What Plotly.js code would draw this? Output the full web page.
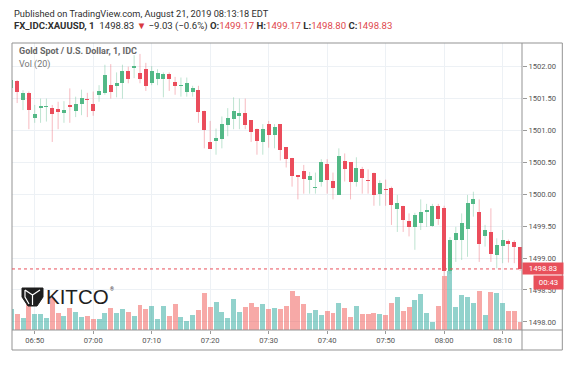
<!DOCTYPE html>
<html>
<head>
<meta charset="utf-8">
<script src="https://cdn.plot.ly/plotly-3.0.1.min.js"></script>
<style>
  html, body { margin: 0; padding: 0; background: #ffffff; }
  #chart { width: 577px; height: 372px; }
</style>
</head>
<body>
<div id="chart"></div>
<script>
// ---- Data (1-minute candles, FX_IDC:XAUUSD, 21 Aug 2019) ----
const day = '2019-08-21';
const times = [
  '06:46','06:47','06:48','06:49','06:50','06:51','06:52','06:53','06:54','06:55','06:56','06:57','06:58','06:59',
  '07:00','07:01','07:02','07:03','07:04','07:05','07:06','07:07','07:08','07:09',
  '07:10','07:11','07:12','07:13','07:14','07:15','07:16','07:17','07:18','07:19',
  '07:20','07:21','07:22','07:23','07:24','07:25','07:26','07:27','07:28','07:29',
  '07:30','07:31','07:32','07:33','07:34','07:35','07:36','07:37','07:38','07:39',
  '07:40','07:41','07:42','07:43','07:44','07:45','07:46','07:47','07:48','07:49',
  '07:50','07:51','07:52','07:53','07:54','07:55','07:56','07:57','07:58','07:59',
  '08:00','08:01','08:02','08:03','08:04','08:05','08:06','08:07','08:08','08:09',
  '08:10','08:11','08:12','08:13'
];
const opens = [
  1501.67,1501.78,1501.48,1501.59,1501.20,1501.35,1501.37,1501.36,1501.33,1501.28,1501.40,1501.31,1501.41,1501.50,
  1501.41,1501.56,1501.58,1501.71,1501.70,1501.75,1501.93,1501.98,1501.90,1501.97,
  1501.75,1501.81,1501.81,1501.88,1501.76,1501.70,1501.61,1501.61,1501.63,1501.31,
  1500.82,1500.84,1500.87,1501.09,1501.18,1501.22,1501.27,1501.16,1501.03,1500.82,
  1501.10,1500.93,1501.10,1500.74,1500.57,1500.30,1500.36,1500.23,1500.10,1500.20,
  1500.47,1500.21,1499.99,1500.52,1500.50,1500.19,1500.39,1500.23,1500.34,1500.01,
  1500.08,1500.10,1499.77,1499.82,1499.58,1499.48,1499.55,1499.73,1499.51,1499.81,
  1499.79,1498.80,1499.28,1499.29,1499.45,1499.85,1499.72,1499.34,1499.41,1499.05,
  1499.19,1499.27,1499.26,1499.17
];
const highs = [
  1501.82,1501.79,1501.63,1501.61,1501.40,1501.50,1501.50,1501.40,1501.45,1501.46,1501.66,1501.53,1501.64,1501.59,
  1501.61,1501.71,1502.03,1502.04,1501.91,1502.03,1502.00,1502.18,1502.20,1502.06,
  1502.01,1501.96,1501.91,1501.91,1501.84,1501.83,1501.83,1501.70,1501.70,1501.31,
  1501.15,1501.03,1501.22,1501.35,1501.52,1501.50,1501.50,1501.16,1501.03,1501.10,
  1501.15,1501.10,1501.10,1500.74,1500.57,1500.30,1500.46,1500.35,1500.34,1500.55,
  1500.55,1500.34,1500.72,1500.64,1500.50,1500.58,1500.43,1500.39,1500.34,1500.22,
  1500.23,1500.12,1499.99,1499.82,1499.70,1499.71,1499.92,1499.85,1499.85,1499.85,
  1499.82,1499.33,1499.49,1499.70,1499.99,1500.04,1499.92,1499.52,1499.78,1499.31,
  1499.44,1499.29,1499.28,1499.17
];
const lows = [
  1501.62,1501.43,1501.32,1501.02,1501.12,1501.12,1501.14,1500.82,1501.02,1501.12,1501.12,1501.21,1501.24,1501.21,
  1501.23,1501.45,1501.56,1501.50,1501.52,1501.50,1501.74,1501.82,1501.74,1501.62,
  1501.71,1501.71,1501.52,1501.62,1501.56,1501.53,1501.53,1501.53,1501.12,1500.72,
  1500.71,1500.62,1500.72,1500.91,1501.02,1501.02,1501.02,1500.82,1500.62,1500.62,
  1500.73,1500.72,1500.53,1500.42,1500.12,1499.92,1500.01,1500.01,1500.01,1500.12,
  1500.01,1499.92,1499.99,1500.20,1499.92,1500.12,1500.01,1500.01,1499.82,1499.82,
  1499.82,1499.52,1499.41,1499.41,1499.34,1499.13,1499.44,1499.49,1499.49,1499.52,
  1498.72,1498.75,1498.94,1498.97,1499.02,1499.65,1498.94,1499.18,1498.94,1498.84,
  1498.92,1498.93,1498.92,1498.80
];
const closes = [
  1501.79,1501.60,1501.58,1501.32,1501.26,1501.38,1501.39,1501.26,1501.29,1501.32,1501.37,1501.41,1501.51,1501.48,
  1501.31,1501.62,1501.87,1501.61,1501.75,1501.93,1501.81,1502.01,1501.81,1501.70,
  1501.94,1501.90,1501.88,1501.81,1501.70,1501.72,1501.75,1501.67,1501.29,1501.00,
  1500.71,1500.89,1501.10,1501.20,1501.31,1501.28,1501.09,1500.97,1500.83,1501.02,
  1500.93,1501.06,1500.70,1500.55,1500.28,1500.27,1500.24,1500.29,1500.12,1500.51,
  1500.22,1500.10,1500.60,1500.39,1500.20,1500.41,1500.26,1500.21,1499.99,1500.17,
  1500.07,1499.83,1499.86,1499.59,1499.48,1499.68,1499.72,1499.74,1499.81,1499.61,
  1498.80,1499.28,1499.40,1499.55,1499.86,1499.92,1499.22,1499.44,1499.07,1499.20,
  1499.28,1499.22,1499.17,1498.83
];
const volumes = [
  210,160,120,260,160,160,120,320,170,140,220,180,130,140,
  110,110,170,220,170,210,180,140,250,210,
  240,110,240,140,260,130,90,150,200,370,
  230,280,180,120,310,180,230,270,230,260,
  210,220,210,240,390,340,260,170,200,150,
  190,170,270,220,130,240,160,160,170,160,
  150,270,330,190,230,300,360,170,80,240,
  540,590,230,350,330,270,390,150,380,370,
  270,190,190,80
];
const xTickLabels = ['06:50','07:00','07:10','07:20','07:30','07:40','07:50','08:00','08:10'];
const yTickLabels = ['1498.00','1498.50','1499.00','1499.50','1500.00','1500.50','1501.00','1501.50','1502.00'];

// ---- Styles ----
const UP = '#53b987', DOWN = '#eb4d5c';
const UP_WICK = 'rgba(83,185,135,0.38)', DOWN_WICK = 'rgba(235,77,92,0.38)';
const UP_VOL = 'rgba(38,166,154,0.5)', DOWN_VOL = 'rgba(239,83,80,0.5)';
const FONT = 'Roboto, "Open Sans", sans-serif';

// pixel -> paper helpers (plot area: x 12..521.7, y 43..330)
const PL = 12, PR = 521.7, PT = 43, PB = 330;
const px = X => (X - PL) / (PR - PL);
const py = Y => (PB - Y) / (PB - PT);

const xs = times.map(t => day + ' ' + t);
const isUp = closes.map((c, i) => c >= opens[i]);

// Wicks
function wickTrace(up) {
  const x = [], y = [];
  xs.forEach((t, i) => {
    if (isUp[i] === up) { x.push(t, t, null); y.push(lows[i], highs[i], null); }
  });
  return { type: 'scatter', mode: 'lines', x, y, xaxis: 'x', yaxis: 'y2',
    line: { color: up ? UP_WICK : DOWN_WICK, width: 1 }, hoverinfo: 'skip', showlegend: false };
}
// Bodies
function bodyTrace(up) {
  const x = [], base = [], h = [];
  xs.forEach((t, i) => {
    if (isUp[i] === up) {
      x.push(t);
      base.push(Math.min(opens[i], closes[i]));
      h.push(Math.max(Math.abs(closes[i] - opens[i]), 0.017));
    }
  });
  return { type: 'bar', x, y: h, base, xaxis: 'x', yaxis: 'y2', width: 41000,
    marker: { color: up ? UP : DOWN, line: { width: 0 } }, hoverinfo: 'skip', showlegend: false };
}
const volTrace = {
  type: 'bar', x: xs, y: volumes, xaxis: 'x', yaxis: 'y', width: 51000,
  marker: { color: isUp.map(u => u ? UP_VOL : DOWN_VOL), line: { width: 0 } },
  hoverinfo: 'skip', showlegend: false
};

const last = closes.length - 1;
const lastClose = closes[last];
const red = '#e0474c';
const f2 = v => v.toFixed(2);

const header2 = '<b>FX_IDC:XAUUSD, 1</b>&nbsp;&nbsp;' + f2(lastClose) +
  ' <span style="color:#d83a3f">▼</span> −9.03 (−0.6%) ' +
  '<b>O:</b><span style="color:' + red + '">' + f2(opens[last]) + '</span> ' +
  '<b>H:</b><span style="color:' + red + '">' + f2(highs[last]) + '</span> ' +
  '<b>L:</b><span style="color:' + red + '">' + f2(lows[last]) + '</span> ' +
  '<b>C:</b><span style="color:' + red + '">' + f2(lastClose) + '</span>';

const layout = {
  width: 577, height: 372,
  margin: { l: PL, r: 577 - PR, t: PT, b: 372 - PB, pad: 0 },
  paper_bgcolor: '#ffffff', plot_bgcolor: '#ffffff',
  font: { family: FONT, color: '#333' },
  showlegend: false,
  bargap: 0,
  barmode: 'overlay',
  xaxis: {
    type: 'date',
    range: [day + ' 06:46:07', day + ' 08:13:19'],
    tickvals: xTickLabels.map(t => day + ' ' + t),
    ticktext: xTickLabels,
    showgrid: true, gridcolor: '#edf1f5', gridwidth: 1,
    ticks: 'outside', ticklen: 3, tickcolor: '#9a9a9a',
    tickfont: { size: 7.6, color: '#555', family: FONT },
    showline: false, zeroline: false, fixedrange: true
  },
  yaxis: {
    range: [0, 2870], visible: false, fixedrange: true, showgrid: false, zeroline: false
  },
  yaxis2: {
    overlaying: 'y', side: 'right',
    range: [1497.873, 1502.371],
    tickvals: yTickLabels.map(Number),
    ticktext: yTickLabels,
    showgrid: true, gridcolor: '#edf1f5', gridwidth: 1,
    ticks: 'outside', ticklen: 4, tickcolor: '#9a9a9a',
    tickfont: { size: 7.6, color: '#555', family: FONT },
    showline: false, zeroline: false, fixedrange: true
  },
  shapes: [
    // outer frame
    { type: 'rect', xref: 'paper', yref: 'paper', x0: 0, x1: px(562), y0: py(350), y1: 1,
      line: { color: '#939393', width: 1 }, fillcolor: 'rgba(0,0,0,0)', layer: 'above' },
    // price-axis separator
    { type: 'line', xref: 'paper', yref: 'paper', x0: 1, x1: 1, y0: py(350), y1: 1,
      line: { color: '#939393', width: 1 }, layer: 'above' },
    // time-axis separator
    { type: 'line', xref: 'paper', yref: 'paper', x0: 0, x1: px(562), y0: 0, y1: 0,
      line: { color: '#939393', width: 1 }, layer: 'above' },
    // last-price line
    { type: 'line', xref: 'paper', yref: 'y2', x0: 0, x1: 1, y0: lastClose, y1: lastClose,
      line: { color: '#e8505b', width: 1, dash: 'dot' }, layer: 'above' },
    // KITCO emblem
    { type: 'path', xref: 'paper', yref: 'paper', xsizemode: 'pixel', ysizemode: 'pixel',
      xanchor: px(22), yanchor: py(288),
      path: 'M0,0 L21,0 L21,-9 L15,-18 L6,-18 L0,-9 Z',
      fillcolor: '#1e1e1e', line: { color: '#1e1e1e', width: 1 }, layer: 'above' },
    { type: 'path', xref: 'paper', yref: 'paper', xsizemode: 'pixel', ysizemode: 'pixel',
      xanchor: px(22), yanchor: py(288),
      path: 'M3,-2 L10.5,-7 L18,-2 M10.5,-7 L10.5,-17 M3,-2 L3,-9 L7,-16',
      line: { color: '#ffffff', width: 1.2 }, layer: 'above' }
  ],
  annotations: [
    { xref: 'paper', yref: 'paper', x: px(12), y: py(14), xanchor: 'left', yanchor: 'middle',
      text: 'Published on TradingView.com, August 21, 2019 08:13:18 EDT', showarrow: false,
      font: { size: 9.25, color: '#2f2f2f', family: FONT } },
    { xref: 'paper', yref: 'paper', x: px(12), y: py(26.5), xanchor: 'left', yanchor: 'middle',
      text: header2, showarrow: false, font: { size: 9.6, color: '#2f2f2f', family: FONT } },
    { xref: 'paper', yref: 'paper', x: px(17), y: py(51), xanchor: 'left', yanchor: 'middle',
      text: '<b>Gold Spot / U.S. Dollar, 1, IDC</b>', showarrow: false,
      font: { size: 9, color: '#666', family: FONT } },
    { xref: 'paper', yref: 'paper', x: px(17), y: py(64.5), xanchor: 'left', yanchor: 'middle',
      text: 'Vol (20)', showarrow: false, font: { size: 9, color: '#777', family: FONT } },
    { xref: 'paper', yref: 'paper', x: px(44), y: py(296.5), xanchor: 'left', yanchor: 'middle',
      text: 'KITCO', showarrow: false,
      font: { size: 20.5, color: '#1e1e1e', family: '"Liberation Sans", Arial, sans-serif' } },
    { xref: 'paper', yref: 'paper', x: px(108), y: py(289), xanchor: 'left', yanchor: 'middle',
      text: '®', showarrow: false, font: { size: 5, color: '#333', family: FONT } },
    { xref: 'paper', yref: 'y2', x: 1, y: lastClose, xanchor: 'left', yanchor: 'middle',
      text: f2(lastClose), showarrow: false, bgcolor: '#e8505b', borderpad: 1,
      width: 38, height: 9, align: 'center',
      font: { size: 7.8, color: '#ffffff', family: FONT } },
    { xref: 'paper', yref: 'y2', x: px(532.7), y: lastClose, yshift: -13.3,
      xanchor: 'left', yanchor: 'middle',
      text: '00:43', showarrow: false, bgcolor: '#e8505b', borderpad: 1,
      width: 27, height: 11, align: 'center',
      font: { size: 7.8, color: '#ffffff', family: FONT } }
  ]
};

Plotly.newPlot('chart', [volTrace, wickTrace(true), wickTrace(false), bodyTrace(true), bodyTrace(false)],
  layout, { staticPlot: true, displayModeBar: false });
</script>
</body>
</html>
